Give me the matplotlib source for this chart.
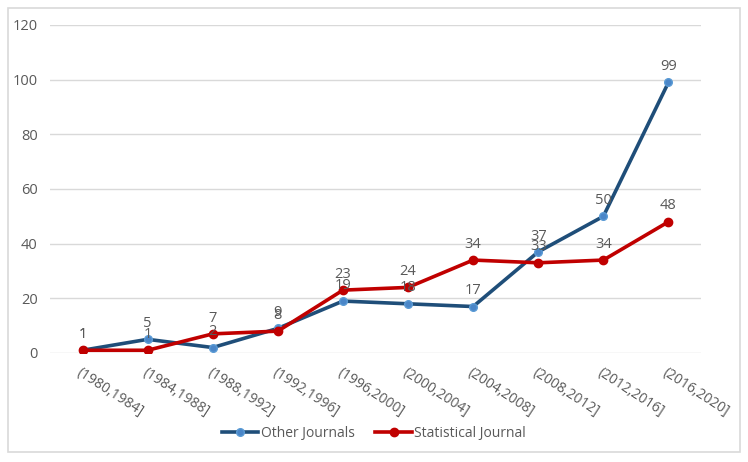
import matplotlib.pyplot as plt
from matplotlib.patches import Rectangle

categories = ['(1980,1984]', '(1984,1988]', '(1988,1992]', '(1992,1996]', '(1996,2000]',
              '(2000,2004]', '(2004,2008]', '(2008,2012]', '(2012,2016]', '(2016,2020]']
other_journals = [1, 5, 2, 9, 19, 18, 17, 37, 50, 99]
statistical_journal = [1, 1, 7, 8, 23, 24, 34, 33, 34, 48]

plt.rcParams['font.family'] = ['Open Sans', 'DejaVu Sans']
grey = '#595959'
fs = 10.5

fig = plt.figure(figsize=(7.48, 4.62), dpi=100, facecolor='white')
ax = fig.add_axes([50 / 748, 109 / 462, 651 / 748, 328 / 462])

x = list(range(len(categories)))
ax.plot(x, other_journals, color='#1F4E79', linewidth=2.6, marker='o', markersize=5.5,
        markerfacecolor='#4A86C8', markeredgecolor='#5B9BD5', markeredgewidth=1,
        label='Other Journals', zorder=3)
ax.plot(x, statistical_journal, color='#C00000', linewidth=2.6, marker='o', markersize=6,
        markerfacecolor='#C00000', markeredgecolor='#C00000',
        label='Statistical Journal', zorder=4)

# data labels above each point
for xi, v in zip(x, other_journals):
    ax.annotate(str(v), (xi, v), xytext=(0, 6), textcoords='offset points',
                ha='center', va='bottom', fontsize=fs, color=grey, zorder=5)
for xi, v in zip(x, statistical_journal):
    ax.annotate(str(v), (xi, v), xytext=(0, 6), textcoords='offset points',
                ha='center', va='bottom', fontsize=fs, color=grey, zorder=5)

ax.set_xlim(-0.5, len(categories) - 0.5)
ax.set_ylim(0, 120)
ax.set_yticks(range(0, 121, 20))
ax.yaxis.grid(True, color='#D9D9D9', linewidth=1)
ax.set_axisbelow(True)
for s in ax.spines.values():
    s.set_visible(False)
ax.tick_params(axis='both', length=0, colors=grey, labelsize=fs)
ax.tick_params(axis='y', pad=9)
ax.set_xticks(x)
ax.set_xticklabels(categories, rotation=-33, ha='left', rotation_mode='anchor', fontsize=10)
ax.tick_params(axis='x', pad=9)

leg = fig.legend(loc='center', bbox_to_anchor=(0.5, 1 - 433 / 462), ncol=2,
                 frameon=False, fontsize=10, handlelength=2.6, columnspacing=1.5,
                 handletextpad=0.2)
for t in leg.get_texts():
    t.set_color(grey)

fig.patches.append(Rectangle((8 / 748, 10 / 462), 732 / 748, 444 / 462, transform=fig.transFigure,
                             fill=False, edgecolor='#D9D9D9', linewidth=1.2))

fig.savefig('out.png', dpi=100)
